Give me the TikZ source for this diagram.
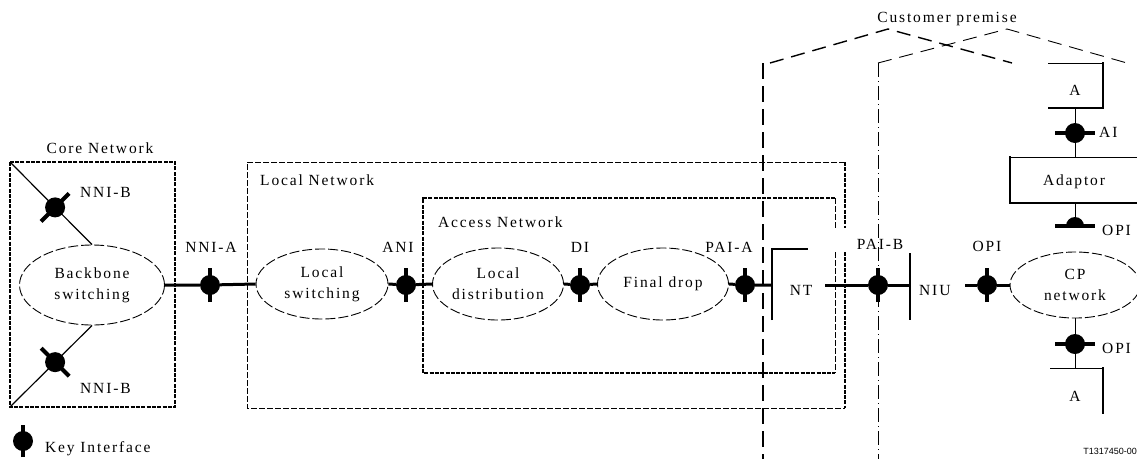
\documentclass[tikz,border=0pt]{standalone}
\usepackage{fontspec}
\setmainfont{Liberation Serif}[LetterSpace=12]
\newfontfamily\tagfont{Liberation Sans}
\usetikzlibrary{shapes.geometric,calc}
\newcommand\KeyBarV[1]{\draw[keybar] ([yshift=-17pt]#1.center) -- ([yshift=17pt]#1.center);}
\newcommand\KeyBarH[1]{\draw[keybar] ([xshift=-20pt]#1.center) -- ([xshift=20pt]#1.center);}
\begin{document}
\begin{tikzpicture}[x=1pt,y=-1pt,
  every node/.style={font=\fontsize{15.5}{21}\selectfont},
  keydot/.style={circle,fill=black,inner sep=0pt,minimum size=20pt},
  keybar/.style={line width=4pt},
  link/.style={line width=3pt},
  thinlink/.style={line width=1pt},
  diag/.style={line width=1.2pt},
  cloud/.style={ellipse,draw,dash pattern=on 10pt off 3pt,line width=0.9pt,inner sep=0pt,align=center},
  thickbox/.style={line width=2.2pt,dash pattern=on 4pt off 1.3pt},
  thinbox/.style={line width=0.8pt,dash pattern=on 6pt off 2pt},
  wall/.style={line width=2.6pt,dash pattern=on 16pt off 7pt},
  roof/.style={line width=1.4pt,dash pattern=on 14pt off 8pt},
  wallb/.style={line width=0.8pt,dash pattern=on 14pt off 4pt on 1pt off 4pt},
  roofb/.style={line width=0.9pt,dash pattern=on 14pt off 8pt},
  bracket/.style={line width=1.5pt},
  lbl/.style={anchor=base,inner xsep=0pt},
  lblw/.style={anchor=base west,inner xsep=0pt}]
\useasboundingbox (0,0) rectangle (1137,459);

% boxes
\draw[thickbox] (10,162) rectangle (175,407);
\draw[thinbox] (845,162) -- (247,162) -- (247,408) -- (845,408);
\draw[thickbox] (845,162) -- (845,228);
\draw[thickbox] (845,252) -- (845,408);
\draw[thickbox] (835,198) -- (423,198) -- (423,373) -- (835,373);
\draw[thinbox] (835,198) -- (835,228);
\draw[thinbox] (835,252) -- (835,373);
\node[lbl] (corelbl) at (100,153) {Core Network};
\node[lblw] (locallbl) at (260,185) {Local Network};
\node[lblw] (accesslbl) at (438,227) {Access Network};

% customer premise
\draw[wall] (763,63) -- (763,459);
\draw[roof] (770,63) -- (888,29) -- (1012,63);
\draw[wallb] (878,63) -- (878,459);
\draw[roofb] (878,63) -- (1007,29) -- (1127,63);
\node[lbl] (cplbl) at (947,22) {Customer premise};

% clouds
\node[cloud,minimum width=145pt,minimum height=80pt] (bb) at (92,285) {Backbone\\switching};
\node[cloud,minimum width=132pt,minimum height=70pt] (ls) at (322,284) {Local\\switching};
\node[cloud,minimum width=131pt,minimum height=72pt] (ld) at (498,284) {Local\\distribution};
\node[cloud,minimum width=131pt,minimum height=72pt] (fd) at (663,284) {Final drop};
\node[cloud,minimum width=130pt,minimum height=66pt] (cp) at (1075,285) {CP\\network};

% core diagonals
\coordinate (ctl) at (10,162);
\coordinate (cbl) at (10,407);
\draw[diag] (ctl) -- (bb.north);
\draw[diag] (bb.south) -- (cbl);
\node[keydot] (nnib1) at ($(ctl)!0.55!(bb.north)$) {};
\node[keydot] (nnib2) at ($(bb.south)!0.45!(cbl)$) {};
\draw[keybar] ($(nnib1)+(-14,14)$) -- ($(nnib1)+(14,-14)$);
\draw[keybar] ($(nnib2)+(-14,-14)$) -- ($(nnib2)+(14,14)$);
\node[lblw] (nnib1lbl) at (80,197) {NNI-B};
\node[lblw] (nnib2lbl) at (80,393) {NNI-B};

% main chain
\node[keydot] (nnia) at (210,285) {};
\node[keydot] (ani) at (406,285) {};
\node[keydot] (di) at (580,285) {};
\node[keydot] (paia) at (745,285) {};
\node[keydot] (paib) at (878,285) {};
\node[keydot] (opi1) at (987,285) {};
\coordinate (ntin) at (772,285);
\coordinate (ntout) at (825,285);
\coordinate (niu) at (910,285);
\coordinate (opiin) at (965,285);
\draw[link] (bb.east) -- (nnia) -- (ls.west);
\draw[link] (ls.east) -- (ani) -- (ld.west);
\draw[link] (ld.east) -- (di) -- (fd.west);
\draw[link] (fd.east) -- (paia) -- (ntin);
\draw[link] (ntout) -- (paib) -- (niu);
\draw[link] (opiin) -- (opi1) -- (cp.west);
\KeyBarV{nnia}
\KeyBarV{ani}
\KeyBarV{di}
\KeyBarV{paia}
\KeyBarV{paib}
\KeyBarV{opi1}
\node[lbl] (nnialbl) at (211,252) {NNI-A};
\node[lbl] (anilbl) at (398,252) {ANI};
\node[lbl] (dilbl) at (580,252) {DI};
\node[lbl] (paialbl) at (729,252) {PAI-A};
\node[lbl] (paiblbl) at (880,249) {PAI-B};
\node[lbl] (opi1lbl) at (987,251) {OPI};

% NT and NIU
\draw[bracket] (772,320) -- (772,249) -- (808,249);
\node[lbl] (nt) at (801,295) {NT};
\draw[bracket] (910,253) -- (910,320);
\node[lblw] (niulbl) at (919,295) {NIU};

% right column
\draw[thinlink] (1048,63) -- (1103,63);
\draw[bracket] (1103,62) -- (1103,108) -- (1048,108);
\node[lbl] (atoplbl) at (1075,95) {A};
\coordinate (atopb) at (1075,108);
\node[keydot] (ai) at (1075,133) {};
\coordinate (adtop) at (1075,157);
\draw[thinlink] (atopb) -- (ai) -- (adtop);
\KeyBarH{ai}
\node[lblw] (ailbl) at (1099,137) {AI};
\draw[thinlink] (1137,157) -- (1010,157);
\draw[bracket] (1010,156) -- (1010,203) -- (1137,203);
\node[lbl] (adlbl) at (1074,185) {Adaptor};
\coordinate (adbot) at (1075,203);
\coordinate (opih) at (1075,226);
\draw[thinlink] (adbot) -- (opih);
\fill ([xshift=-9pt]opih) arc[start angle=180,end angle=0,radius=9pt] -- cycle;
\KeyBarH{opih}
\node[lblw] (opi2lbl) at (1102,235) {OPI};
\node[keydot] (opi3) at (1075,344) {};
\coordinate (abot) at (1075,368);
\draw[thinlink] (cp.south) -- (opi3) -- (abot);
\KeyBarH{opi3}
\node[lblw] (opi3lbl) at (1102,353) {OPI};
\draw[thinlink] (1050,368) -- (1103,368);
\draw[bracket] (1103,367) -- (1103,414);
\node[lbl] (abotlbl) at (1075,401) {A};

% legend
\node[keydot] (legkey) at (23,441) {};
\draw[keybar] ([yshift=-16pt]legkey.center) -- ([yshift=16pt]legkey.center);
\node[lblw] (leglbl) at (45,452) {Key Interface};
\node[anchor=base east,inner xsep=0pt,font=\tagfont\fontsize{9}{10}\selectfont] (tag) at (1137,454) {T1317450-00};
\end{tikzpicture}
\end{document}
